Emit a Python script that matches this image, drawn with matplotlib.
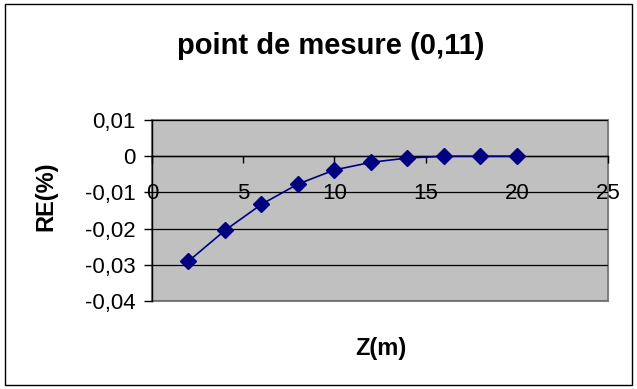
import numpy as np
import matplotlib
matplotlib.use("Agg")
import matplotlib.pyplot as plt
from matplotlib.patches import Rectangle
from matplotlib.ticker import FuncFormatter

plt.rcParams['font.family'] = ['Liberation Sans', 'DejaVu Sans']

# donnees
z = [2, 4, 6, 8, 10, 12, 14, 16, 18, 20]
re = [-0.029, -0.0205, -0.0133, -0.0077, -0.0038, -0.0017, -0.0005, 0.0, 0.0, 0.0]
x_ticks = [0, 5, 10, 15, 20, 25]
y_ticks = [0.01, 0, -0.01, -0.02, -0.03, -0.04]

fig = plt.figure(figsize=(6.37, 3.89), dpi=100)
fig.patches.append(Rectangle((5/637, 4/389), 627/637, 381/389, transform=fig.transFigure,
                             fill=False, edgecolor='black', linewidth=1.0))

ax = fig.add_axes([152/637, 1-301/389, 456/637, 181/389])
ax.set_facecolor('#C0C0C0')
ax.patch.set_edgecolor('#808080')
ax.patch.set_linewidth(1.5)

ax.plot(z, re, color='#000080', linewidth=1.2, marker='D', markersize=8.5,
        markerfacecolor='#000080', markeredgecolor='#000080', zorder=5, clip_on=False)

ax.set_xlim(0, 25)
ax.set_ylim(-0.04, 0.01)
ax.set_xticks(x_ticks)
ax.set_yticks(y_ticks)

fmt = FuncFormatter(lambda v, p: '0' if abs(v) < 1e-12 else ('%g' % round(v, 4)).replace('.', ','))
ax.yaxis.set_major_formatter(fmt)
ax.xaxis.set_major_formatter(FuncFormatter(lambda v, p: '%d' % v))

ax.grid(axis='y', color='black', linewidth=0.9)
ax.set_axisbelow(True)

for s in ['top', 'right']:
    ax.spines[s].set_visible(False)
ax.spines['left'].set_color('black')
ax.spines['left'].set_linewidth(1.0)
ax.spines['bottom'].set_position(('data', 0))
ax.spines['bottom'].set_color('black')
ax.spines['bottom'].set_linewidth(1.0)

ax.tick_params(axis='y', direction='out', length=6, width=1, labelsize=16, pad=6)
ax.tick_params(axis='x', direction='out', length=5, width=1, labelsize=16, pad=14)

ax.set_ylabel('RE(%)', fontsize=17, fontweight='bold')
ax.yaxis.set_label_coords(-0.208, 0.58)
ax.set_xlabel('Z(m)', fontsize=17, fontweight='bold')
ax.xaxis.set_label_coords(0.502, -0.199)

fig.text(331/637, 1-46/389, 'point de mesure (0,11)', fontsize=21, fontweight='bold',
         ha='center', va='center')

fig.savefig('out.png', dpi=100)
